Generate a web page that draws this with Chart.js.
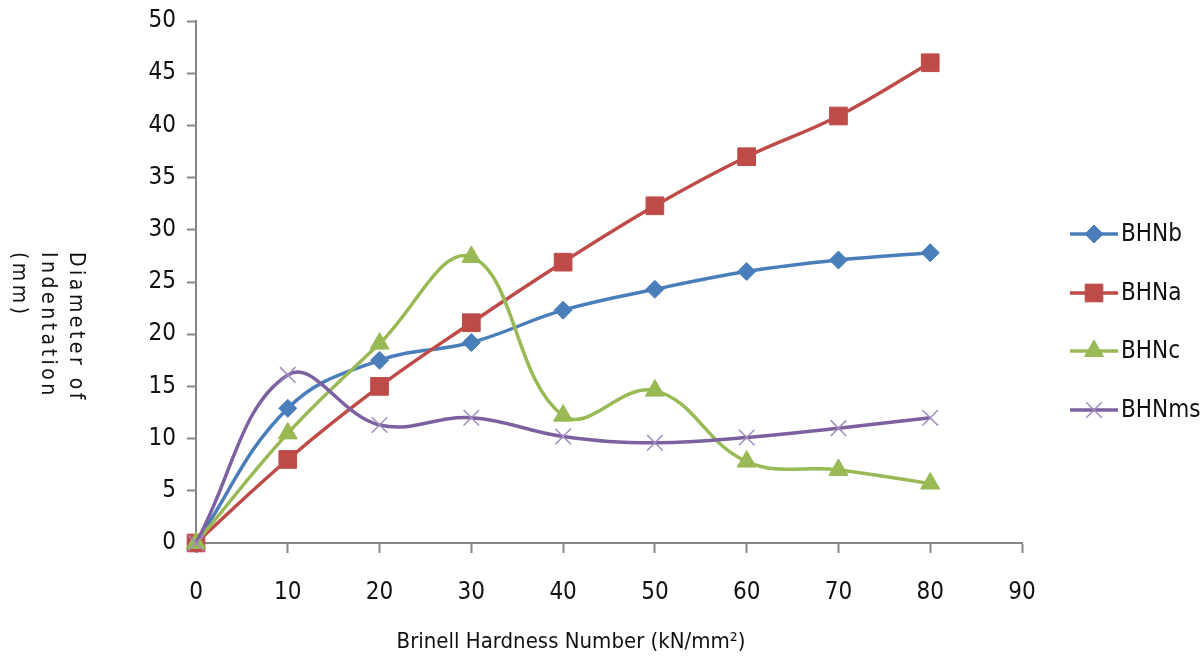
<!DOCTYPE html>
<html lang="en">
<head>
    <meta charset="UTF-8">
    <title>Brinell Hardness Number</title>
    <script src="https://cdn.jsdelivr.net/npm/chart.js"></script>
    <style>
        body {
            margin: 0;
            padding: 0;
            background: #ffffff;
        }
        .chart-box {
            width: 1204px;
            height: 660px;
        }
    </style>
</head>
<body>
    <div class="chart-box">
        <canvas id="hardnessChart" width="1204" height="660"></canvas>
    </div>

    <script>
        // values
        const xValues = [0, 10, 20, 30, 40, 50, 60, 70, 80];
        const bhnb = [0, 12.9, 17.5, 19.2, 22.3, 24.3, 26.0, 27.1, 27.8];
        const bhna = [0, 8.0, 15.0, 21.1, 26.9, 32.3, 37.0, 40.9, 46.0];
        const bhnc = [0, 10.5, 19.1, 27.4, 12.2, 14.6, 7.8, 7.0, 5.7];
        const bhnms = [0, 16.1, 11.3, 12.0, 10.2, 9.6, 10.1, 11.0, 12.0];

        const seriesNames = ["BHNb", "BHNa", "BHNc", "BHNms"];
        const xTitle = "Brinell Hardness Number (kN/mm\u00B2)";
        const yTitleLines = ["Diameter of", "Indentation", "(mm)"];

        const fontFamily = "'Liberation Sans Narrow', 'DejaVu Sans Condensed', sans-serif";
        const axisGrey = "#868686";

        function points(ys) {
            return xValues.map((x, i) => ({ x: x, y: ys[i] }));
        }

        function makeSeries(label, ys, color, style, radius, order, markerColor, markerWidth) {
            return {
                label: label,
                data: points(ys),
                borderColor: color,
                backgroundColor: markerColor || color,
                borderWidth: 3.5,
                tension: 0.4,
                pointStyle: style,
                pointRadius: radius,
                pointHoverRadius: radius,
                pointBackgroundColor: markerColor || color,
                pointBorderColor: markerColor || color,
                pointBorderWidth: markerWidth || 1,
                order: order,
                clip: false
            };
        }

        const datasets = [
            makeSeries(seriesNames[0], bhnb, "#4A7EBB", "rectRot", 9, 4),
            makeSeries(seriesNames[1], bhna, "#BE4B48", "rect", 12.5, 3),
            makeSeries(seriesNames[2], bhnc, "#98B954", "triangle", 11, 2),
            makeSeries(seriesNames[3], bhnms, "#7D60A0", "crossRot", 11, 1, "#9F8CC0", 1.5)
        ];

        // draws text one char at a time with extra spacing
        function spacedText(ctx, text, x, y, spacing) {
            let pos = x;
            for (const ch of text) {
                ctx.fillText(ch, pos, y);
                pos += ctx.measureText(ch).width + spacing;
            }
        }

        // axis titles and right hand legend
        const extrasPlugin = {
            id: "extras",
            afterDraw(chart) {
                const ctx = chart.ctx;
                ctx.save();
                ctx.fillStyle = "#111";

                // x title
                ctx.font = "22px " + fontFamily;
                ctx.textAlign = "center";
                ctx.textBaseline = "middle";
                ctx.fillText(xTitle, 571, 642);

                // y title, turned clockwise
                ctx.font = "21px " + fontFamily;
                ctx.textAlign = "left";
                const lineX = [75, 47, 18];
                yTitleLines.forEach((line, i) => {
                    ctx.save();
                    ctx.translate(lineX[i], 252);
                    ctx.rotate(Math.PI / 2);
                    spacedText(ctx, line, 0, 0, 3.5);
                    ctx.restore();
                });

                // legend
                const legendY = [234, 293, 351, 410];
                chart.data.datasets.forEach((ds, i) => {
                    const y = legendY[i];
                    ctx.strokeStyle = ds.borderColor;
                    ctx.lineWidth = 3.5;
                    ctx.beginPath();
                    ctx.moveTo(1070, y);
                    ctx.lineTo(1118, y);
                    ctx.stroke();

                    ctx.fillStyle = ds.pointBackgroundColor;
                    ctx.strokeStyle = ds.pointBorderColor;
                    ctx.lineWidth = ds.pointBorderWidth;
                    Chart.helpers.drawPoint(ctx, {
                        pointStyle: ds.pointStyle,
                        radius: ds.pointRadius,
                        rotation: 0,
                        borderWidth: ds.pointBorderWidth
                    }, 1094, y);

                    ctx.fillStyle = "#111";
                    ctx.font = "24px " + fontFamily;
                    ctx.textAlign = "left";
                    ctx.textBaseline = "middle";
                    ctx.fillText(ds.label, 1121, y + 1);
                });
                ctx.restore();
            }
        };

        new Chart(document.getElementById("hardnessChart"), {
            type: "line",
            data: { datasets: datasets },
            options: {
                responsive: false,
                animation: false,
                layout: { padding: { left: 0, right: 182, top: 21, bottom: 0 } },
                plugins: {
                    legend: { display: false },
                    tooltip: { enabled: false }
                },
                scales: {
                    x: {
                        type: "linear",
                        min: 0,
                        max: 90,
                        ticks: {
                            stepSize: 10,
                            color: "#111",
                            padding: 25,
                            font: { family: fontFamily, size: 24 }
                        },
                        grid: {
                            drawOnChartArea: false,
                            drawTicks: true,
                            tickLength: 10,
                            tickWidth: 2,
                            color: axisGrey
                        },
                        border: { display: true, color: axisGrey, width: 2 },
                        afterFit(scale) { scale.height = 117; }
                    },
                    y: {
                        min: 0,
                        max: 50,
                        ticks: {
                            stepSize: 5,
                            color: "#111",
                            padding: 11,
                            font: { family: fontFamily, size: 24, lineHeight: 1 }
                        },
                        grid: {
                            drawOnChartArea: false,
                            drawTicks: true,
                            tickLength: 9,
                            tickWidth: 2,
                            color: axisGrey
                        },
                        border: { display: true, color: axisGrey, width: 2 },
                        afterFit(scale) {
                            scale.width = 196;
                            scale.paddingTop = 0;
                        }
                    }
                }
            },
            plugins: [extrasPlugin]
        });
    </script>
</body>
</html>
